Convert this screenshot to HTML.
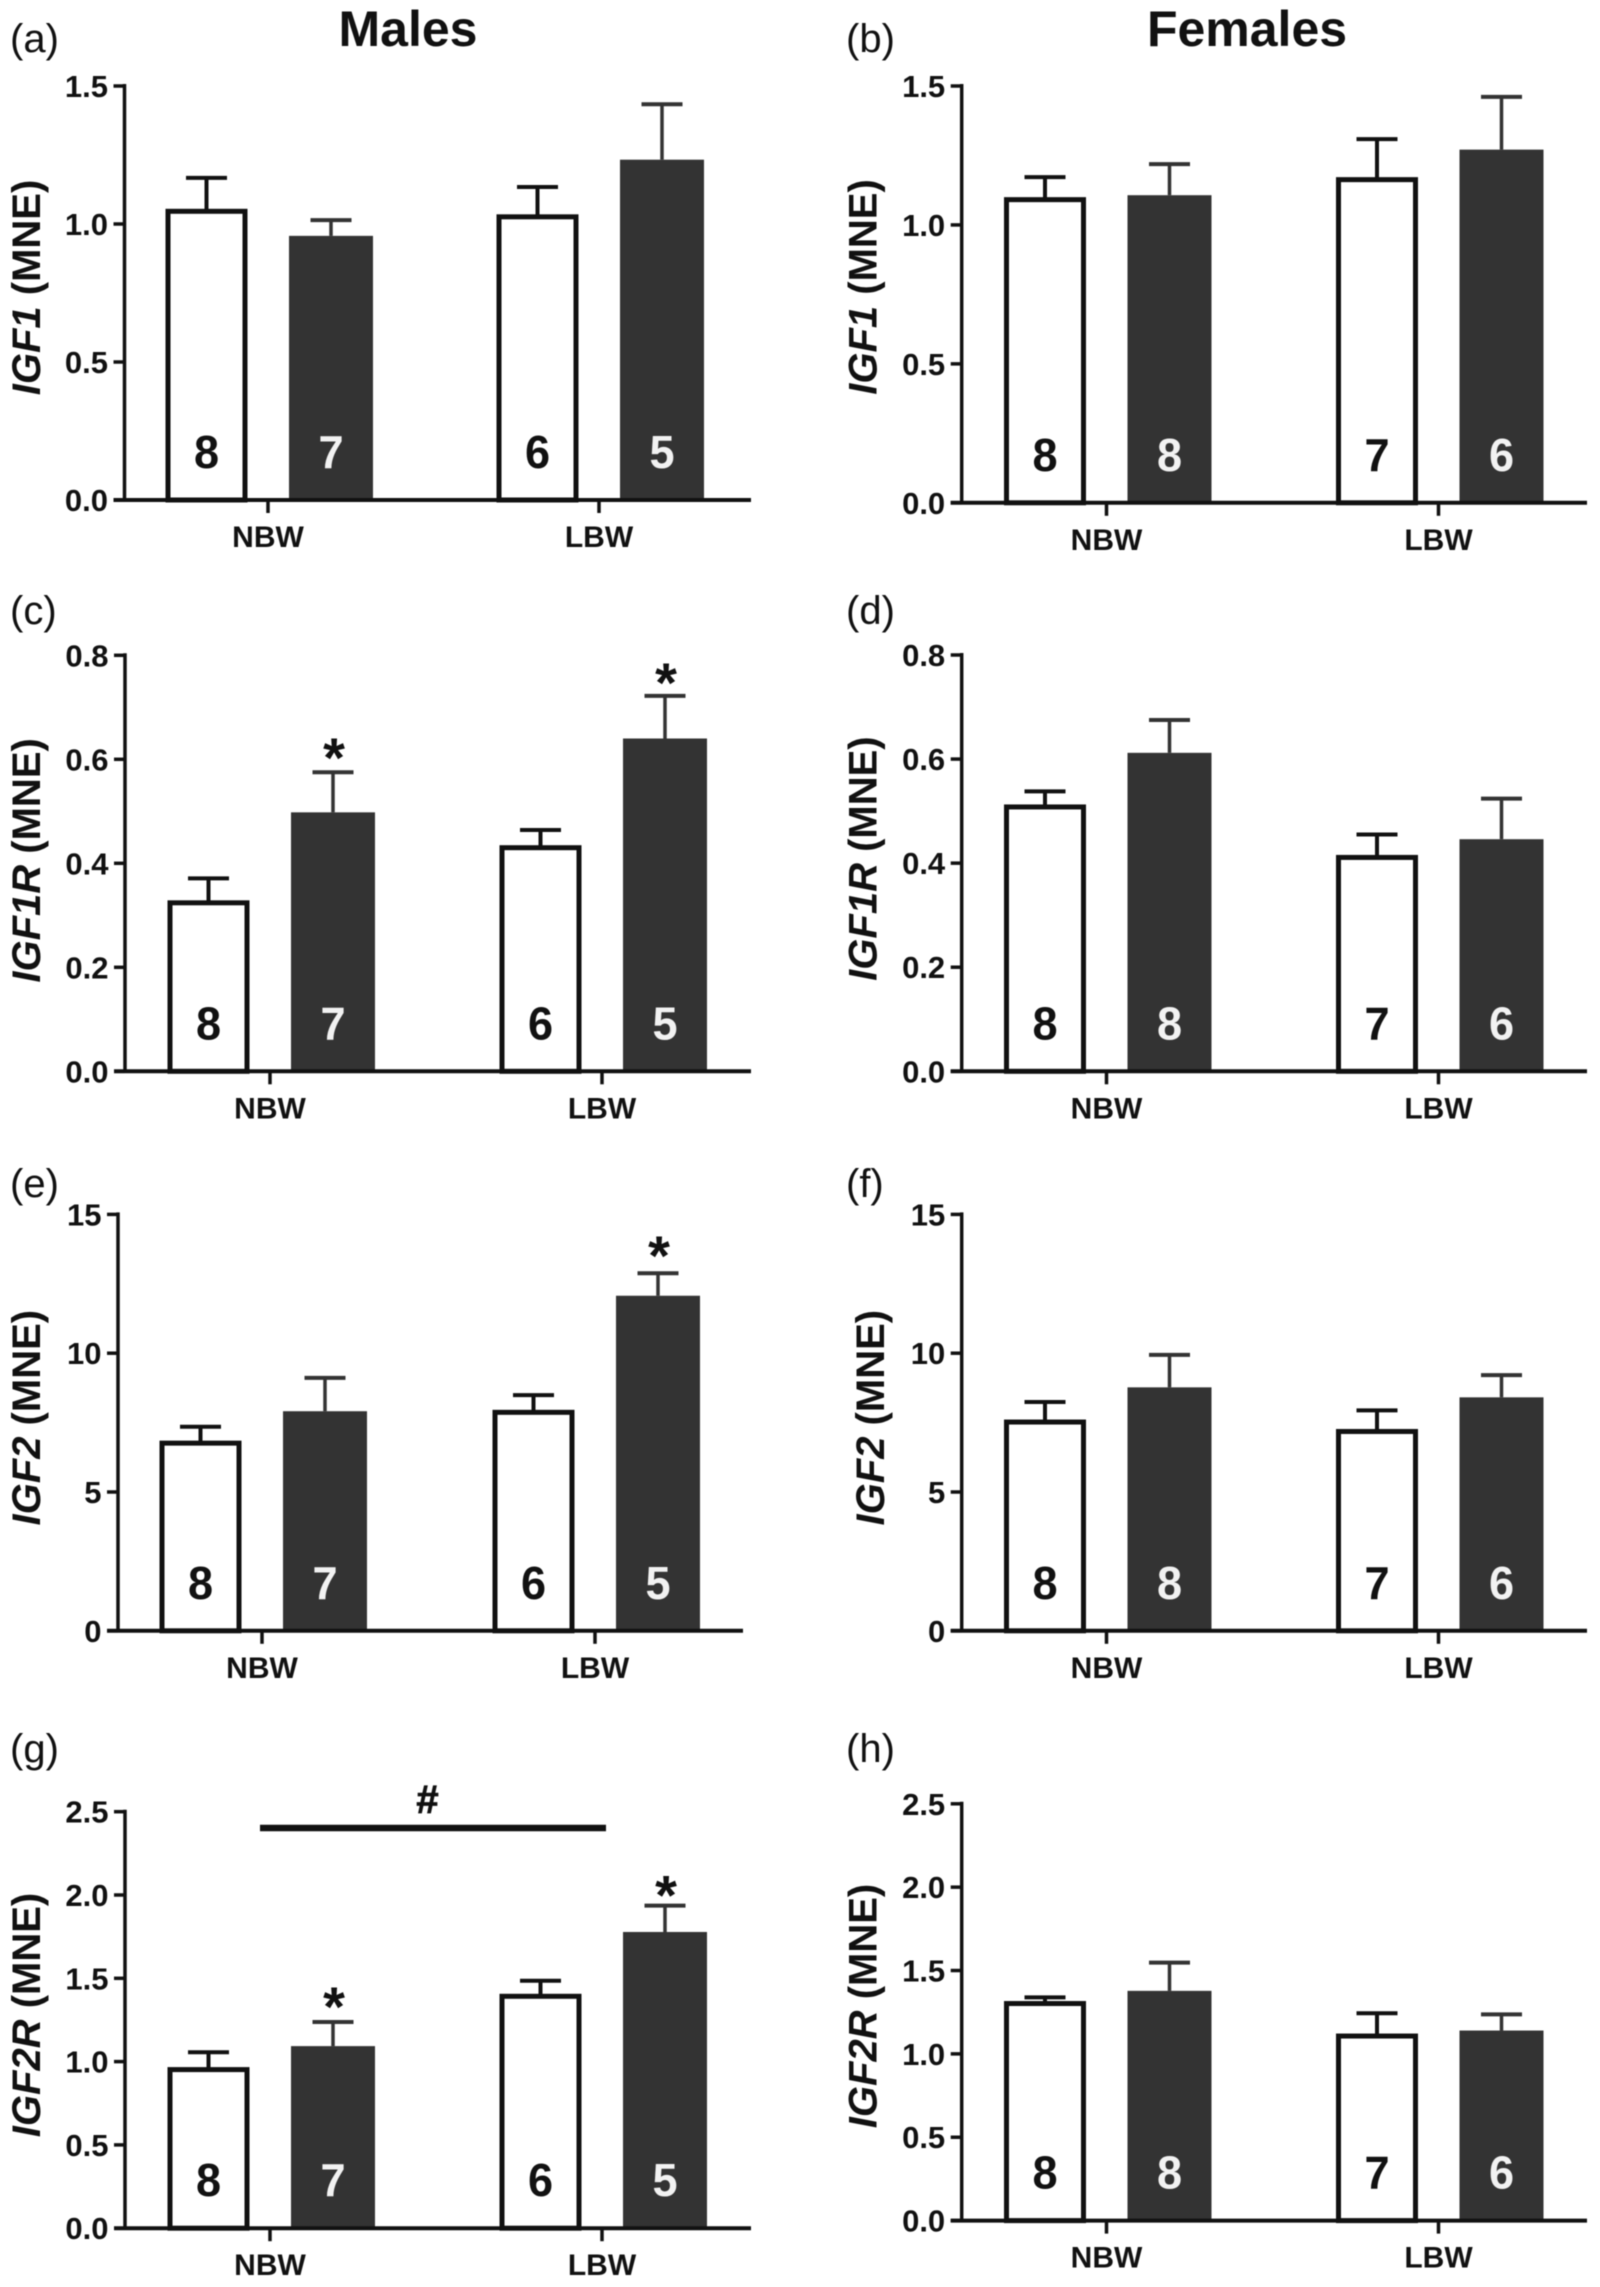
<!DOCTYPE html>
<html lang="en">
<head>
<meta charset="utf-8">
<title>IGF gene expression in males and females by birth weight</title>
<style>
html,body{margin:0;padding:0;background:#fff;}
#figure{display:block;width:1600px;height:2287px;filter:blur(0.4px);}
text{font-family:"Liberation Sans",Arial,sans-serif;fill:#111;}
</style>
</head>
<body>
<svg id="figure" xmlns="http://www.w3.org/2000/svg" width="1600" height="2287" viewBox="0 0 1600 2287">
  <text x="408" y="46" text-anchor="middle" font-size="50" font-weight="700">Males</text>
  <text x="1247" y="46" text-anchor="middle" font-size="50" font-weight="700">Females</text>
</svg>
<script>
const groupLabels = ['NBW', 'LBW'];

const meansA = [1.046, 0.957, 1.026, 1.233];
const uppersA = [1.167, 1.014, 1.134, 1.434];
const countsA = ['8', '7', '6', '5'];
const ticksA = [0, 0.5, 1, 1.5];
const tickLabelsA = ['0.0', '0.5', '1.0', '1.5'];
const starLevelsA = [null, null, null, null];

const meansB = [1.091, 1.107, 1.163, 1.271];
const uppersB = [1.172, 1.219, 1.309, 1.461];
const countsB = ['8', '8', '7', '6'];
const ticksB = [0, 0.5, 1, 1.5];
const tickLabelsB = ['0.0', '0.5', '1.0', '1.5'];
const starLevelsB = [null, null, null, null];

const meansC = [0.324, 0.498, 0.430, 0.640];
const uppersC = [0.371, 0.575, 0.464, 0.722];
const countsC = ['8', '7', '6', '5'];
const ticksC = [0, 0.2, 0.4, 0.6, 0.8];
const tickLabelsC = ['0.0', '0.2', '0.4', '0.6', '0.8'];
const starLevelsC = [null, 0.566, null, 0.710];

const meansD = [0.508, 0.612, 0.411, 0.446];
const uppersD = [0.538, 0.675, 0.455, 0.524];
const countsD = ['8', '8', '7', '6'];
const ticksD = [0, 0.2, 0.4, 0.6, 0.8];
const tickLabelsD = ['0.0', '0.2', '0.4', '0.6', '0.8'];
const starLevelsD = [null, null, null, null];

const meansE = [6.76, 7.91, 7.87, 12.07];
const uppersE = [7.35, 9.11, 8.49, 12.88];
const countsE = ['8', '7', '6', '5'];
const ticksE = [0, 5, 10, 15];
const tickLabelsE = ['0', '5', '10', '15'];
const starLevelsE = [null, null, null, 12.81];

const meansF = [7.52, 8.77, 7.18, 8.41];
const uppersF = [8.24, 9.94, 7.94, 9.21];
const countsF = ['8', '8', '7', '6'];
const ticksF = [0, 5, 10, 15];
const tickLabelsF = ['0', '5', '10', '15'];
const starLevelsF = [null, null, null, null];

const meansG = [0.952, 1.093, 1.392, 1.778];
const uppersG = [1.056, 1.238, 1.485, 1.936];
const countsG = ['8', '7', '6', '5'];
const ticksG = [0, 0.5, 1, 1.5, 2, 2.5];
const tickLabelsG = ['0.0', '0.5', '1.0', '1.5', '2.0', '2.5'];
const starLevelsG = [null, 1.214, null, 1.882];

const meansH = [1.302, 1.378, 1.107, 1.140];
const uppersH = [1.339, 1.547, 1.244, 1.237];
const countsH = ['8', '8', '7', '6'];
const ticksH = [0, 0.5, 1, 1.5, 2, 2.5];
const tickLabelsH = ['0.0', '0.5', '1.0', '1.5', '2.0', '2.5'];
const starLevelsH = [null, null, null, null];

const panels = [
  {id:'a', gene:'IGF1',  axisX:124.5, top:86,     base:500,    g0:268,    g1:599,    right:751,  tagX:10,  tagY:52,   titleX:40,    titleY:287.5, means:meansA, uppers:uppersA, counts:countsA, ticks:ticksA, tickLabels:tickLabelsA, stars:starLevelsA},
  {id:'b', gene:'IGF1',  axisX:961.7, top:86,     base:502.8,  g0:1106.5, g1:1438.5, right:1587, tagX:846, tagY:52,   titleX:876.5, titleY:287,   means:meansB, uppers:uppersB, counts:countsB, ticks:ticksB, tickLabels:tickLabelsB, stars:starLevelsB},
  {id:'c', gene:'IGF1R', axisX:125,   top:655.3,  base:1071.3, g0:270,    g1:602,    right:751,  tagX:10,  tagY:624,  titleX:40,    titleY:860.4, means:meansC, uppers:uppersC, counts:countsC, ticks:ticksC, tickLabels:tickLabelsC, stars:starLevelsC},
  {id:'d', gene:'IGF1R', axisX:961.7, top:655,    base:1071.3, g0:1106.5, g1:1438.5, right:1587, tagX:846, tagY:624,  titleX:876.5, titleY:858.6, means:meansD, uppers:uppersD, counts:countsD, ticks:ticksD, tickLabels:tickLabelsD, stars:starLevelsD},
  {id:'e', gene:'IGF2',  axisX:118,   top:1214.4, base:1630.8, g0:262,    g1:595,    right:743,  tagX:10,  tagY:1197, titleX:40,    titleY:1417.7, means:meansE, uppers:uppersE, counts:countsE, ticks:ticksE, tickLabels:tickLabelsE, stars:starLevelsE},
  {id:'f', gene:'IGF2',  axisX:961.7, top:1214.4, base:1630.8, g0:1106.5, g1:1438.5, right:1587, tagX:846, tagY:1197, titleX:884,   titleY:1417.7, means:meansF, uppers:uppersF, counts:countsF, ticks:ticksF, tickLabels:tickLabelsF, stars:starLevelsF},
  {id:'g', gene:'IGF2R', axisX:125,   top:1811.7, base:2228.2, g0:270,    g1:602,    right:751,  tagX:10,  tagY:1762, titleX:40,    titleY:2015,  means:meansG, uppers:uppersG, counts:countsG, ticks:ticksG, tickLabels:tickLabelsG, stars:starLevelsG},
  {id:'h', gene:'IGF2R', axisX:961.7, top:1803.8, base:2220.6, g0:1106.5, g1:1438.5, right:1587, tagX:846, tagY:1762, titleX:876.5, titleY:2006,  means:meansH, uppers:uppersH, counts:countsH, ticks:ticksH, tickLabels:tickLabelsH, stars:starLevelsH}
];

const SVG_NS = 'http://www.w3.org/2000/svg';
const svg = document.getElementById('figure');
const WHITE_W = 82, DARK_W = 84, WHITE_OFFSET = -61.5, DARK_OFFSET = 63, CAP_W = 41;
const INK = '#111', DARK = '#333';

function make(parent, tag, attrs, content) {
  const node = document.createElementNS(SVG_NS, tag);
  for (const k in attrs) node.setAttribute(k, attrs[k]);
  if (content !== undefined) node.textContent = content;
  parent.appendChild(node);
  return node;
}

panels.forEach(function (p) {
  const g = make(svg, 'g', {});
  
  

  const yMax = p.ticks[p.ticks.length - 1];
  const yScale = function (v) { return p.base - (v / yMax) * (p.base - p.top); };
  const groupX = function (i) { return p.g0 + i * (p.g1 - p.g0); };
  const barX = function (i) {
    const group = Math.floor(i / 2);
    return groupX(group) + (i % 2 === 0 ? WHITE_OFFSET : DARK_OFFSET);
  };

  const tag = make(g, 'text', {x: p.tagX, y: p.tagY, 'font-size': 40}, '(' + p.id + ')');
  
  

  const title = make(g, 'text', {
    transform: 'translate(' + p.titleX + ',' + p.titleY + ') rotate(-90)',
    'text-anchor': 'middle', 'font-size': 40, 'font-weight': 700
  });
  
  
  make(title, 'tspan', {'font-style': 'italic'}, p.gene);
  make(title, 'tspan', {}, ' (MNE)');

  p.means.forEach(function (mean, i) {
    const cx = barX(i);
    const isWhite = i % 2 === 0;
    const yTop = yScale(mean);
    const yUp = yScale(p.uppers[i]);
    const ink = isWhite ? INK : DARK;

    const stem = make(g, 'line', {x1: cx, x2: cx, y1: yTop, y2: yUp, stroke: ink, 'stroke-width': isWhite ? 4 : 3.5});
    
    
    const cap = make(g, 'line', {x1: cx - CAP_W / 2, x2: cx + CAP_W / 2, y1: yUp, y2: yUp, stroke: ink, 'stroke-width': 4});
    
    

    let bar;
    if (isWhite) {
      bar = make(g, 'rect', {x: cx - WHITE_W / 2 + 2.5, y: yTop, width: WHITE_W - 5, height: p.base - yTop, fill: '#fff', stroke: INK, 'stroke-width': 5});
    } else {
      bar = make(g, 'rect', {x: cx - DARK_W / 2, y: yTop, width: DARK_W, height: p.base - yTop, fill: DARK});
    }
    
    

    const count = make(g, 'text', {
      transform: 'translate(' + cx + ',' + (p.base - 32) + ') scale(0.98,1)',
      'text-anchor': 'middle', 'font-size': 46, 'font-weight': 700,
      style: 'fill:' + (isWhite ? '#111' : '#f2f2f2')
    }, p.counts[i]);
    
    

    if (p.stars[i] !== null) {
      const star = make(g, 'text', {x: cx + 1, y: yScale(p.stars[i]), 'text-anchor': 'middle', 'font-size': 56, 'font-weight': 700}, '*');
      
      
    }
  });

  const yAxis = make(g, 'line', {x1: p.axisX, x2: p.axisX, y1: p.top - 2, y2: p.base, stroke: INK, 'stroke-width': 3.5});
  
  
  const xAxis = make(g, 'line', {x1: p.axisX - 11, x2: p.right, y1: p.base, y2: p.base, stroke: INK, 'stroke-width': 4});
  
  

  p.ticks.forEach(function (t, i) {
    const y = yScale(t);
    const mark = make(g, 'line', {x1: p.axisX - 11, x2: p.axisX, y1: y, y2: y, stroke: INK, 'stroke-width': 3.5});
    
    
    const label = make(g, 'text', {x: p.axisX - 16.5, y: y + 11, 'text-anchor': 'end', 'font-size': 31, 'font-weight': 700}, p.tickLabels[i]);
    
    
  });

  groupLabels.forEach(function (name, i) {
    const x = groupX(i);
    const mark = make(g, 'line', {x1: x, x2: x, y1: p.base, y2: p.base + 13, stroke: INK, 'stroke-width': 3.5});
    
    
    const label = make(g, 'text', {x: x, y: p.base + 47, 'text-anchor': 'middle', 'font-size': 30, 'font-weight': 700}, name);
    
    
  });

  if (p.id === 'g') {
    const bracket = make(g, 'line', {x1: groupX(0) - 10, x2: groupX(1) + 4, y1: 1828, y2: 1828, stroke: INK, 'stroke-width': 6.5});
    
    
    const hash = make(g, 'text', {x: 427.5, y: 1813, 'text-anchor': 'middle', 'font-size': 40, 'font-weight': 700, stroke: '#111', 'stroke-width': 0.8}, '#');
    
    
  }
});
</script>
</body>
</html>
